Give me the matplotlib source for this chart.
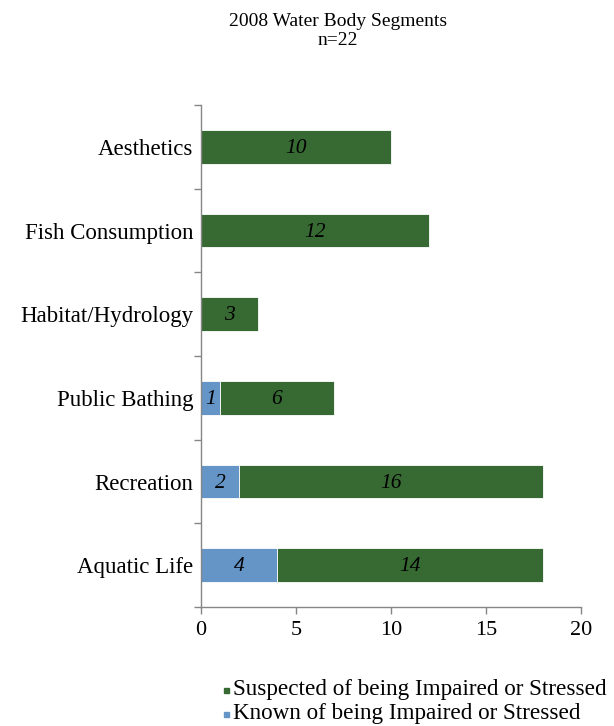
import matplotlib
matplotlib.use("Agg")
import matplotlib.pyplot as plt
import numpy as np

categories = ["Aesthetics", "Fish Consumption", "Habitat/Hydrology",
              "Public Bathing", "Recreation", "Aquatic Life"]
known = [0, 0, 0, 1, 2, 4]
suspected = [10, 12, 3, 6, 16, 14]
xticks = [0, 5, 10, 15, 20]

GREEN = "#376933"
BLUE = "#6594C7"
AXC = "#868686"
plt.rcParams["font.family"] = ["Liberation Serif", "DejaVu Serif"]

fig = plt.figure(figsize=(6.14, 7.26), dpi=100)
ax = fig.add_axes([201/614, 1-607/726, 380/614, 502/726])

y = np.arange(len(categories))
ax.barh(y, known, height=0.4, color=BLUE, edgecolor="white", linewidth=0.6)
ax.barh(y, suspected, left=known, height=0.4, color=GREEN, edgecolor="white", linewidth=0.6)

for i in range(len(categories)):
    if known[i] > 0:
        ax.text(known[i]/2, y[i] + 0.02, str(known[i]), ha="center", va="center",
                fontsize=15.5, style="italic", color="black")
    ax.text(known[i] + suspected[i]/2, y[i] + 0.02, str(suspected[i]), ha="center",
            va="center", fontsize=15.5, style="italic", color="black")

ax.set_xlim(0, 20)
ax.set_ylim(len(categories)-0.5, -0.5)
ax.set_xticks(xticks)
ax.set_xticklabels([str(t) for t in xticks], fontsize=16)
ax.set_yticks(y)
ax.set_yticklabels(categories, fontsize=16.5)
ax.set_yticks(np.arange(-0.5, len(categories)), minor=True)
ax.tick_params(axis="y", which="major", length=0, pad=5.5)
ax.tick_params(axis="y", which="minor", length=5, color=AXC, width=1)
ax.tick_params(axis="x", length=5, color=AXC, width=1, pad=5)
for s in ["top", "right"]:
    ax.spines[s].set_visible(False)
for s in ["left", "bottom"]:
    ax.spines[s].set_color(AXC)
    ax.spines[s].set_linewidth(1)

fig.text(338/614, 1-31/726, "2008 Water Body Segments\nn=22", ha="center",
         va="center", fontsize=14, linespacing=1.1)

fig.text(233/614, 1-690/726, "Suspected of being Impaired or Stressed",
         ha="left", va="center", fontsize=16.7)
fig.text(233/614, 1-714/726, "Known of being Impaired or Stressed",
         ha="left", va="center", fontsize=16.7)
fig.patches.append(plt.Rectangle((224/614, 1-693/726), 5/614, 5/726,
                                 color=GREEN, transform=fig.transFigure, figure=fig))
fig.patches.append(plt.Rectangle((224/614, 1-717/726), 5/614, 5/726,
                                 color=BLUE, transform=fig.transFigure, figure=fig))

fig.savefig("out.png", dpi=100)
